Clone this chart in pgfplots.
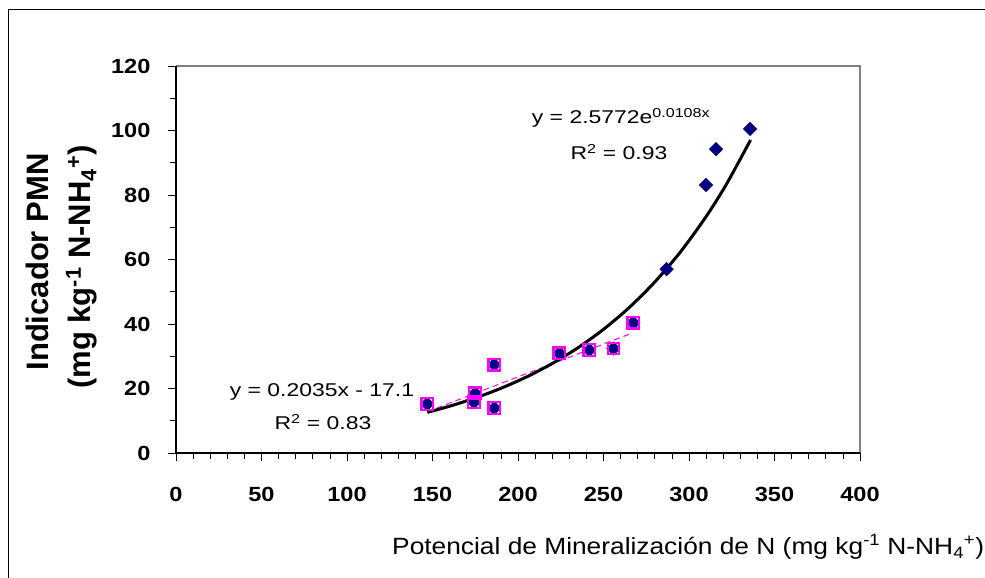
\documentclass[border=0pt]{standalone}
\usepackage{pgfplots}
\pgfplotsset{compat=1.18}
\usepackage{fontspec}
\setmainfont{Liberation Sans}[FakeStretch=1.24]
\newfontfamily\ylfont{Liberation Sans}
\newfontfamily\tickfont{Liberation Sans}[FakeStretch=1.15]
\newfontfamily\xlfont{Liberation Sans}[FakeStretch=1.12]
\definecolor{navy}{RGB}{0,0,128}
\definecolor{pmag}{RGB}{255,0,255}
\definecolor{axgray}{RGB}{128,128,128}

\begin{document}
\begin{tikzpicture}
\useasboundingbox (0pt,0pt) rectangle (985pt,578pt);
\fill[white] (0pt,0pt) rectangle (985pt,578pt);
\draw[black, line width=1pt] (8pt,-10pt) rectangle (1000pt,568pt);
\begin{axis}[
  at={(176pt,125pt)}, anchor=south west,
  scale only axis, width=684pt, height=387pt,
  xmin=0, xmax=400, ymin=0, ymax=120,
  xtick={0,50,...,400}, ytick={0,20,...,120},
  minor x tick num=4, minor y tick num=1,
  tick align=outside, xtick pos=bottom, ytick pos=left,
  major tick length=8pt, minor tick length=6pt,
  tick style={black, line width=0.8pt},
  axis line style={draw=none},
  /pgf/number format/assume math mode=true,
  ticklabel style={font=\tickfont\fontsize{20.5}{21}\selectfont\bfseries},
  xticklabel style={anchor=base, yshift=-41pt},
  yticklabel style={anchor=east, xshift=-14pt},
  clip=false,
]
% all observations (navy diamonds)
\addplot[only marks, mark=square*, mark size=4.8pt,
  mark options={rotate=45, fill=navy, draw=navy}] coordinates {
  (146.9,15.2) (174.3,15.7) (174.9,18.5) (186.1,13.9) (186.1,27.4)
  (224.2,30.9) (241.7,31.9) (255.8,32.4) (267.4,40.4)
  (286.9,57.0) (309.9,83.1) (315.8,94.2) (335.7,100.5)
};
% subset (magenta squares)
\addplot[only marks, mark=square, mark size=5.8pt,
  mark options={draw=pmag, line width=2.2pt}] coordinates {
  (146.9,15.2) (174.3,15.7) (174.9,18.5) (186.1,13.9) (186.1,27.4)
  (224.2,30.9) (241.7,31.9) (255.8,32.4) (267.4,40.4)
};
% linear trend
\addplot[pmag, line width=1pt, dash pattern=on 6pt off 4pt] coordinates {
  (147,12.81) (267,37.23)
};
% exponential trend
\addplot[black, line width=3pt, smooth] coordinates {
  (147,12.61) (160,14.51) (175,17.06) (190,20.06) (205,23.59) (220,27.74)
  (235,32.61) (250,38.35) (265,45.09) (280,53.03) (295,62.35) (310,73.31)
  (322,83.45) (336,97.07)
};
\draw[axgray, line width=2pt] (rel axis cs:0,1) -- (rel axis cs:1,1) -- (rel axis cs:1,0);
\draw[black, line width=1.5pt] (rel axis cs:0,1) -- (rel axis cs:0,0) -- (rel axis cs:1,0);
\end{axis}
% y label
\node[rotate=90, anchor=base, inner sep=0] at (48pt,316pt)
  {\ylfont\fontsize{31}{31}\selectfont\bfseries Indicador PMN};
\node[rotate=90, anchor=base, inner sep=0] at (90pt,311pt)
  {\ylfont\fontsize{31}{31}\selectfont\bfseries (mg kg\textsuperscript{-1} N-NH\textsubscript{4}\textsuperscript{+})};
% x label
\node[anchor=base west, inner sep=0] at (392pt,23pt)
  {\xlfont\fontsize{23.5}{24}\selectfont Potencial de Mineralización de N (mg kg\textsuperscript{-1} N-NH\textsubscript{4}\textsuperscript{+})};
% equations
\node[anchor=base, inner sep=0] at (322pt,181pt)
  {\fontsize{18.5}{19}\selectfont y = 0.2035x - 17.1};
\node[anchor=base, inner sep=0] at (323pt,148pt)
  {\fontsize{18.5}{19}\selectfont R\textsuperscript{2} = 0.83};
\node[anchor=base, inner sep=0] at (621pt,454pt)
  {\fontsize{18.5}{19}\selectfont y = 2.5772e\textsuperscript{0.0108x}};
\node[anchor=base, inner sep=0] at (619pt,418pt)
  {\fontsize{18.5}{19}\selectfont R\textsuperscript{2} = 0.93};
\end{tikzpicture}
\end{document}
